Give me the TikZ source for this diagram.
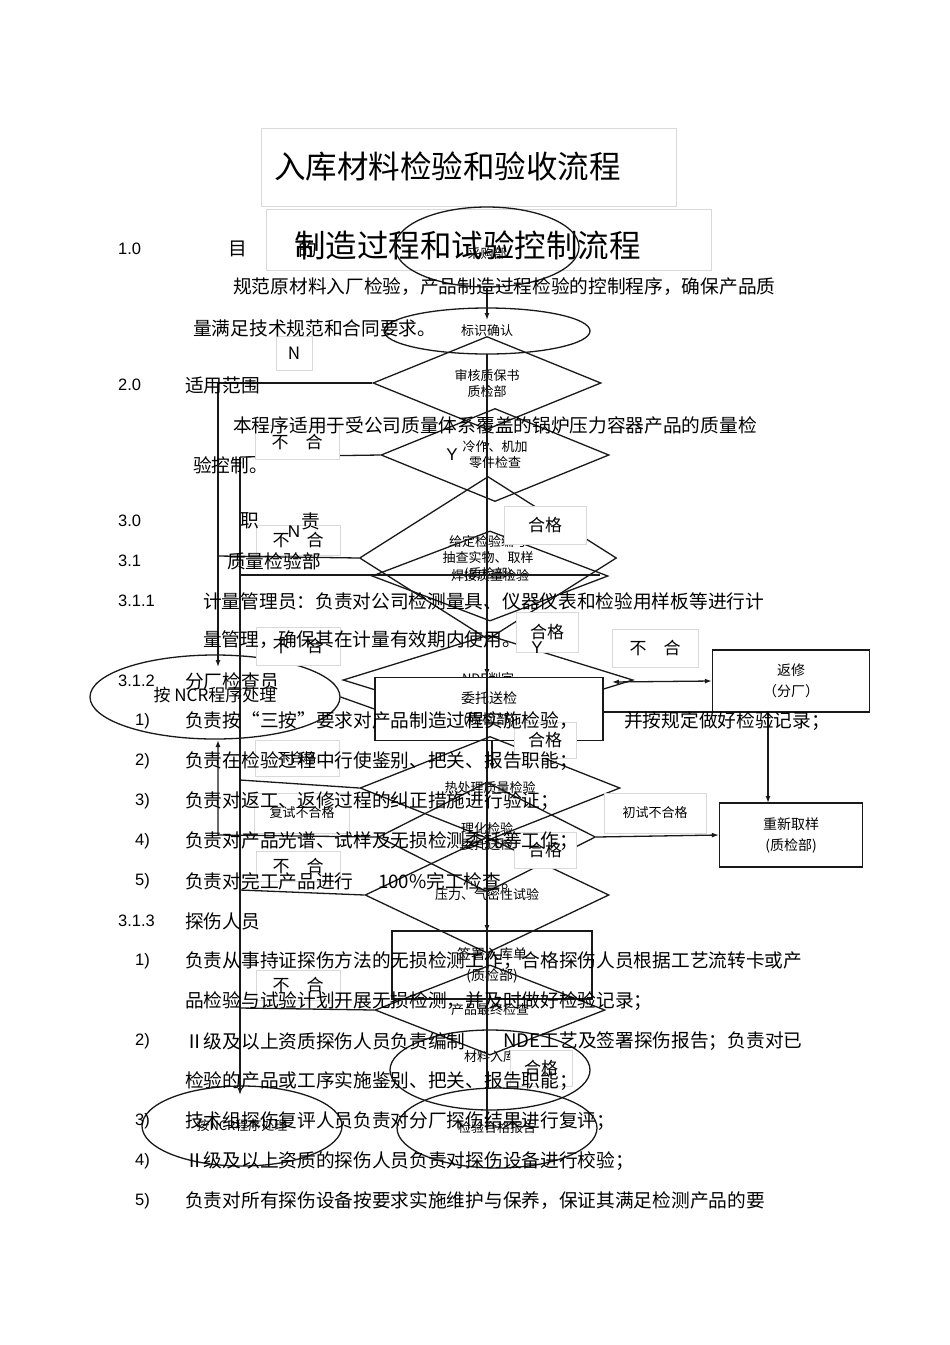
\documentclass[tikz,border=0pt]{standalone}
\usepackage{fontspec}
\setmainfont{Liberation Sans}
\newfontfamily\cjk{Noto Sans CJK SC}
\usetikzlibrary{shapes.geometric,arrows.meta}
\begin{document}
\begin{tikzpicture}[x=1pt,y=-1pt,
 ln/.style={draw=black!90,line width=1.3pt},
 arr/.style={ln,-{Latex[length=7pt,width=5pt]}},
 dia/.style={diamond,ln,inner sep=0pt,font=\cjk\fontsize{13}{16}\selectfont,align=center},
 ell/.style={ellipse,ln,inner sep=0pt,font=\cjk\fontsize{13}{16}\selectfont,align=center},
 box/.style={rectangle,ln,inner sep=0pt,font=\cjk\fontsize{14}{21}\selectfont,align=center},
 lab/.style={rectangle,draw=black!15,fill=white,inner sep=0pt,font=\cjk\fontsize{17}{18}\selectfont},
 slab/.style={rectangle,draw=black!15,fill=white,inner sep=0pt,font=\cjk\fontsize{13}{14}\selectfont},
 body/.style={anchor=west,inner sep=0pt,font=\cjk\fontsize{18.7}{20}\selectfont},
 num/.style={anchor=west,inner sep=0pt,font=\fontsize{16.5}{18}\selectfont},
 ttl/.style={rectangle,draw=black!15,inner sep=0pt,font=\cjk\fontsize{31}{34}\selectfont}]
\useasboundingbox[fill=white] (0,0) rectangle (950,1345);
% titles
\node[ttl,minimum width=415pt,minimum height=78pt] (t1) at (469,167) {};
\node[anchor=west,inner sep=0pt,font=\cjk\fontsize{31.5}{34}\selectfont] (t1t) at (274,166) {入库材料检验和验收流程};
\node[ttl,minimum width=445pt,minimum height=61pt] (t2) at (489,240) {};
\node[anchor=west,inner sep=0pt,font=\cjk\fontsize{31.5}{34}\selectfont] (t2t) at (294,245) {制造过程和试验控制流程};
% flow nodes
\node[ell,minimum width=184pt,minimum height=80pt] (e1) at (487,247) {\\[8pt]采购部};
\node[ell,minimum width=206pt,minimum height=46pt] (e2) at (487,331) {标识确认};
\node[dia,minimum width=228pt,minimum height=90pt] (d1) at (487,383) {审核质保书\\质检部};
\node[dia,minimum width=228pt,minimum height=90pt] (d2) at (495,455) {冷作、机加\\零件检查};
\node[dia,minimum width=257pt,minimum height=163pt] (d3) at (488,558) {给定检验编号\\抽查实物、取样\\(质检部)};
\node[dia,minimum width=236pt,minimum height=40pt] (d3b) at (490,576) {焊接质量检验};
\node[dia,minimum width=290pt,minimum height=90pt] (d4) at (488,680) {};
\node[font=\fontsize{13}{14}\selectfont\cjk,inner sep=0pt] (d4t) at (488,679) {NDE判定};
\node[box,fill=white,minimum width=228pt,minimum height=63pt] (r1) at (489,709) {委托送检\\(质检部)};
\node[box,minimum width=157pt,minimum height=62pt] (r2) at (791,681) {返修\\（分厂）};
\node[dia,minimum width=260pt,minimum height=60pt] (d5) at (490,788) {热处理质量检验};
\node[dia,minimum width=217pt,minimum height=110pt] (d6) at (487,837) {理化检验\\委托送检};
\node[box,minimum width=143pt,minimum height=64pt] (r3) at (791,835) {重新取样\\(质检部)};
\node[dia,minimum width=244pt,minimum height=60pt] (d7) at (487,895) {压力、气密性试验};
\node[box,minimum width=200pt,minimum height=68pt] (r4) at (492,965) {签署入库单\\(质检部)};
\node[dia,minimum width=230pt,minimum height=60pt] (d8) at (490,1010) {产品最终检查};
\node[ell,minimum width=200pt,minimum height=80pt] (e3) at (490,1070) {材料入库\\[12pt]};
\node[ell,minimum width=200pt,minimum height=80pt] (e4) at (497,1128) {检验合格报告};
\node[ell,minimum width=200pt,minimum height=80pt] (e5) at (242,1126) {按NCR程序处理};
\node[ell,minimum width=250pt,minimum height=84pt] (e6) at (215,697) {};
% main spine
\draw[arr] (e1.south) -- (487,320);
\draw[ln] (487,354) -- (487,1130);
\draw[arr] (487,420) -- (487,450);
\draw[arr] (487,650) -- (487,676);
\draw[arr] (492,740) -- (492,770);
\draw[arr] (487,920) -- (487,932);
% left rails
\coordinate (la) at (218,383);
\coordinate (lb) at (240,457);
\draw[ln] (d1.west) -- (la);
\draw[arr] (la) -- (218,667);
\draw[ln] (d2.west) -- (lb);
\draw[arr] (lb) -- (240,1095);
\draw[ln] (d3.west) -- (218,556);
\draw[ln] (240,575) -- (600,575);
\draw[ln] (e6.east) -- (r1.west);
\draw[ln] (240,780) -- (d5.west);
\draw[arr] (d6.west) -- (218,835) -- (218,740);
\draw[ln] (240,890) -- (d7.west);
\draw[ln] (240,1008) -- (d8.west);
% right side
\draw[ln,{Latex[length=7pt,width=5pt]}-{Latex[length=7pt,width=5pt]}] (612,682) -- (r2.west);
\draw[arr] (r2.south) ++(-23,0) -- (768,803);
\draw[ln] (603,712) -- (768,712);
\draw[arr] (d6.east) -- (r3.west);
% labels
\node[lab,minimum width=36pt,minimum height=34pt] (n1) at (294,353) {N};
\node[lab,minimum width=84pt,minimum height=34pt] (l1) at (297,442) {不\quad 合};
\node[font=\fontsize{17}{18}\selectfont,inner sep=0pt] (y1) at (452,455) {Y};
\node[lab,minimum width=84pt,minimum height=30pt] (l2) at (298,540) {不\quad 合};
\node[font=\fontsize{17}{18}\selectfont,inner sep=0pt] (n2) at (294,532) {N};
\node[lab,minimum width=82pt,minimum height=38pt] (g1) at (545,525) {合格};
\node[lab,minimum width=84pt,minimum height=38pt] (l3) at (298,646) {不\quad 合};
\node[lab,minimum width=62pt,minimum height=40pt] (g2) at (547,632) {合格};
\node[font=\fontsize{17}{18}\selectfont,inner sep=0pt] (y2) at (537,648) {Y};
\node[lab,minimum width=86pt,minimum height=38pt] (l4) at (655,648) {不\quad 合};
\node[lab,minimum width=62pt,minimum height=36pt] (g3) at (545,740) {合格};
\node[slab,minimum width=84pt,minimum height=36pt] (l5) at (297,758) {不合格};
\node[slab,minimum width=102pt,minimum height=40pt] (l6) at (655,813) {初试不合格};
\node[slab,minimum width=95pt,minimum height=40pt] (l7) at (302,813) {复试不合格};
\node[lab,minimum width=84pt,minimum height=30pt] (l8) at (298,866) {不\quad 合};
\node[lab,minimum width=62pt,minimum height=36pt] (g4) at (545,850) {合格};
\node[lab,minimum width=84pt,minimum height=30pt] (l9) at (298,985) {不\quad 合};
\node[lab,minimum width=62pt,minimum height=36pt] (g5) at (541,1068) {合格};
\node[font=\cjk\fontsize{17}{18}\selectfont,inner sep=0pt] (ncr) at (215,695) {按 NCR程序处理};
% body text
\node[num] at (118,249) {1.0}; \node[body] at (228,249) {目};\node[body] at (298,249) {的};
\node[body] at (233,287) {规范原材料入厂检验，产品制造过程检验的控制程序，确保产品质};
\node[body] at (193,328) {量满足技术规范和合同要求。};
\node[num] at (118,385) {2.0}; \node[body] at (185,385) {适用范围};
\node[body] at (233,425) {本程序适用于受公司质量体系覆盖的锅炉压力容器产品的质量检};
\node[body] at (193,465) {验控制。};
\node[num] at (118,521) {3.0}; \node[body] at (240,521) {职};\node[body] at (301,521) {责};
\node[num] at (118,561) {3.1}; \node[body] at (227,561) {质量检验部};
\node[num] at (118,601) {3.1.1}; \node[body] at (203,601) {计量管理员：负责对公司检测量具、仪器仪表和检验用样板等进行计};
\node[body] at (203,640) {量管理，确保其在计量有效期内使用。};
\node[num] at (118,681) {3.1.2}; \node[body] at (185,681) {分厂检查员};
\node[num] at (135,721) {1)}; \node[body] at (185,721) {负责按“三按”要求对产品制造过程实施检验，};\node[body] at (624,721) {并按规定做好检验记录；};
\node[num] at (135,761) {2)}; \node[body] at (185,761) {负责在检验过程中行使鉴别、把关、报告职能；};
\node[num] at (135,801) {3)}; \node[body] at (185,801) {负责对返工、返修过程的纠正措施进行验证；};
\node[num] at (135,841) {4)}; \node[body] at (185,841) {负责对产品光谱、试样及无损检测委托等工作；};
\node[num] at (135,881) {5)}; \node[body] at (185,881) {负责对完工产品进行};\node[body] at (378,881) {100\%完工检查。};
\node[num] at (118,921) {3.1.3}; \node[body] at (185,921) {探伤人员};
\node[num] at (135,961) {1)}; \node[body] at (185,961) {负责从事持证探伤方法的无损检测工作，合格探伤人员根据工艺流转卡或产};
\node[body] at (185,1001) {品检验与试验计划开展无损检测，并及时做好检验记录；};
\node[num] at (135,1041) {2)}; \node[body] at (185,1041) {Ⅱ级及以上资质探伤人员负责编制};\node[body] at (503,1041) {NDE工艺及签署探伤报告；负责对已};
\node[body] at (185,1081) {检验的产品或工序实施鉴别、把关、报告职能；};
\node[num] at (135,1121) {3)}; \node[body] at (185,1121) {技术组探伤复评人员负责对分厂探伤结果进行复评；};
\node[num] at (135,1161) {4)}; \node[body] at (185,1161) {Ⅱ级及以上资质的探伤人员负责对探伤设备进行校验；};
\node[num] at (135,1201) {5)}; \node[body] at (185,1201) {负责对所有探伤设备按要求实施维护与保养，保证其满足检测产品的要};
\end{tikzpicture}
\end{document}
